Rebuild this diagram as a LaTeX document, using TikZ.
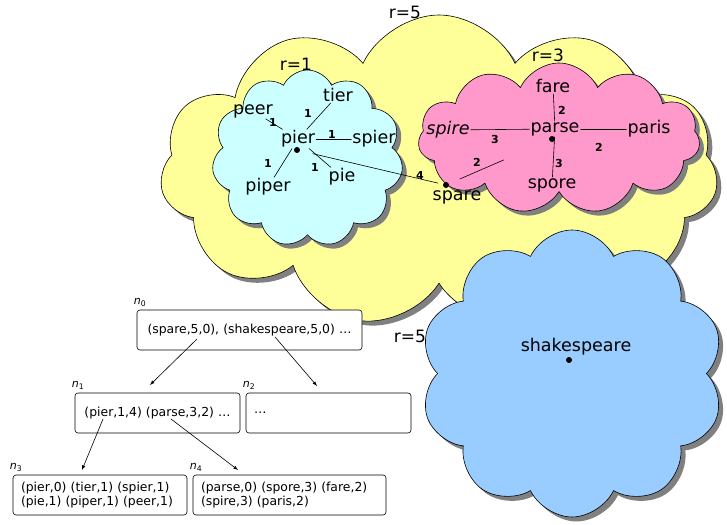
\documentclass[tikz,border=0pt]{standalone}
\usepackage{fontspec}
\setmainfont{DejaVu Sans}
\usetikzlibrary{shapes.symbols,shadows}
\definecolor{rfive}{HTML}{FFFF99}
\definecolor{rone}{HTML}{CCFFFF}
\definecolor{rthree}{HTML}{FF99CC}
\definecolor{rfar}{HTML}{99CCFF}
\tikzset{
  ball/.style={cloud, cloud puffs=11, cloud puff arc=130, cloud ignores aspect, draw, line width=0.6pt,
    drop shadow={shadow xshift=4.5pt, shadow yshift=-4.5pt, fill=black!50, opacity=1}},
  word/.style={font=\fontsize{17.5}{19}\selectfont, inner sep=1pt},
  wt/.style={font=\fontsize{11}{12}\selectfont\bfseries, inner sep=0pt},
  rad/.style={font=\fontsize{17}{19}\selectfont, inner sep=0pt},
  vertex/.style={circle, fill, inner sep=0pt, minimum size=6pt},
  list/.style={draw, line width=0.6pt, rounded corners=3pt, fill=white, minimum height=40pt,
    inner xsep=8pt, font=\fontsize{12.4}{14.5}\selectfont, align=left},
  tag/.style={anchor=south west, font=\fontsize{11}{12}\selectfont, inner sep=1pt, xshift=-4pt, yshift=2pt},
}
\begin{document}
\begin{tikzpicture}[x=1pt,y=1pt,line cap=round,line join=round,>=latex]
  \useasboundingbox (0,0) rectangle (727,524);
  \node[ball, fill=rfive, minimum width=558pt, minimum height=312pt] (c5) at (439,353) {};
  \node[ball, fill=rone, minimum width=191pt, minimum height=177pt] (c1) at (307.5,365.5) {};
  \node[ball, fill=rthree, minimum width=282pt, minimum height=151pt] (c3) at (559,385.5) {};
  \node[ball, fill=rfar, cloud puffs=10, minimum width=304pt, minimum height=287pt] (c6) at (572,150.5) {};
  \node[rad] (r5) at (405,512) {r=5};
  \node[rad] (r1) at (296,460) {r=1};
  \node[rad] (r3) at (548,469) {r=3};
  \node[rad] (r5b) at (410,188) {r=5};
  \node[word] (pier) at (298,385) {pier};
  \node[word] (tier) at (338,429) {tier};
  \node[word] (peer) at (253,413) {peer};
  \node[word] (spier) at (374,385) {spier};
  \node[word] (pie) at (342,347) {pie};
  \node[word] (piper) at (268,337) {piper};
  \node[word] (fare) at (553,438) {fare};
  \node[word] (spire) at (448,394) {\itshape spire};
  \node[word] (parse) at (555,395) {parse};
  \node[word] (paris) at (649,395) {paris};
  \node[word] (spore) at (552,339) {spore};
  \node[word] (spare) at (457,327) {spare};
  \node[word] (shakespeare) at (576,177) {shakespeare};
  \node[vertex] (pd) at (297,374) {};
  \node[vertex] (sd) at (446,339) {};
  \node[vertex] (qd) at (552,385) {};
  \node[vertex] (kd) at (569,164) {};
  \draw[line width=0.6pt] (peer) -- (pier);
  \draw[line width=0.6pt] (tier) -- (pier);
  \draw[line width=0.6pt] (pier) -- (spier);
  \draw[line width=0.6pt] (pier) -- (pie);
  \draw[line width=0.6pt] (pier) -- (piper);
  \draw[line width=0.6pt, shorten <=13pt, shorten >=5pt] (pd) -- (sd);
  \draw[line width=0.6pt, shorten <=12pt, shorten >=49.5pt] (sd) -- (qd);
  \draw[line width=0.6pt] (fare) -- (parse);
  \draw[line width=0.6pt] (spire) -- (parse);
  \draw[line width=0.6pt] (parse) -- (paris);
  \draw[line width=0.6pt] (parse) -- (spore);
  \node[wt] (w1) at (273,402) {1};
  \node[wt] (w2) at (308,411) {1};
  \node[wt] (w3) at (332,390) {1};
  \node[wt] (w4) at (315,357) {1};
  \node[wt] (w5) at (268,361) {1};
  \node[wt] (w6) at (420,349) {4};
  \node[wt] (w7) at (477,362) {2};
  \node[wt] (w8) at (495,384) {3};
  \node[wt] (w9) at (562,414) {2};
  \node[wt] (w10) at (559,360) {3};
  \node[wt] (w11) at (599,377) {2};
  \node[list, align=center, text width=209pt, label={[tag]north west:\textit{n}\textsubscript{0}}] (n0) at (249.5,194)
    {(spare,5,0), (shakespeare,5,0) …};
  \node[list, align=center, text width=149pt, label={[tag]north west:\textit{n}\textsubscript{1}}] (n1) at (157.5,111)
    {(pier,1,4) (parse,3,2) …};
  \node[list, text width=149pt, label={[tag]north west:\textit{n}\textsubscript{2}}] (n2) at (328.5,111) {…};
  \node[list, text width=158pt, label={[tag]north west:\textit{n}\textsubscript{3}}] (n3) at (100,29)
    {(pier,0) (tier,1) (spier,1)\\(pie,1) (piper,1) (peer,1)};
  \node[list, text width=177pt, label={[tag]north west:\textit{n}\textsubscript{4}}] (n4) at (289.5,29)
    {(parse,0) (spore,3) (fare,2)\\(spire,3) (paris,2)};
  \coordinate (a0) at (197,185);
  \coordinate (a1) at (150,139);
  \coordinate (b0) at (275,187);
  \coordinate (b1) at (317,138);
  \coordinate (a2) at (103,105);
  \coordinate (a3) at (82,54);
  \coordinate (b2) at (171,105);
  \coordinate (b3) at (238,54);
  \draw[line width=0.6pt, ->] (a0) -- (a1);
  \draw[line width=0.6pt, ->] (b0) -- (b1);
  \draw[line width=0.6pt, ->] (a2) -- (a3);
  \draw[line width=0.6pt, ->] (b2) -- (b3);
\end{tikzpicture}
\end{document}
